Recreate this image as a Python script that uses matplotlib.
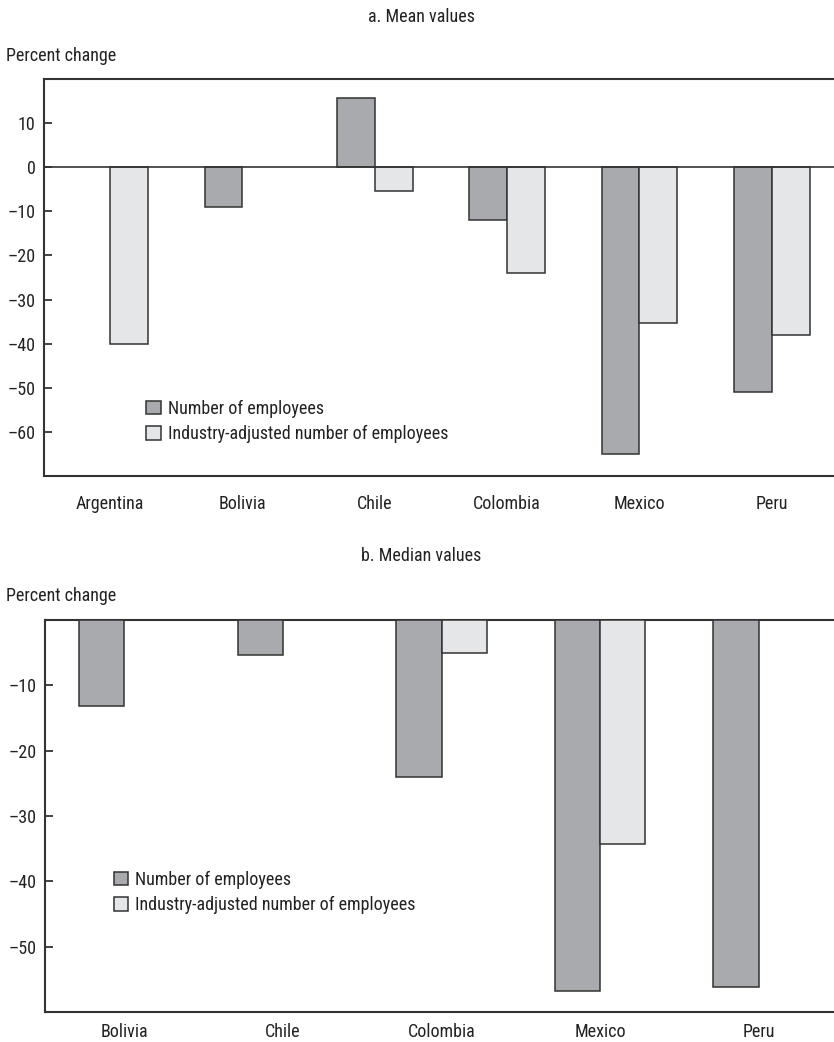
import numpy as np
import matplotlib
matplotlib.use("Agg")
import matplotlib.pyplot as plt

plt.rcParams['font.family'] = ['Roboto Condensed', 'Open Sans Condensed', 'Liberation Sans Narrow',
                               'DejaVu Sans']
plt.rcParams['font.stretch'] = 'condensed'
plt.rcParams['font.size'] = 13
plt.rcParams['text.color'] = '#222222'
plt.rcParams['xtick.color'] = '#222222'
plt.rcParams['ytick.color'] = '#222222'

# a. Mean values
mean_countries = ['Argentina', 'Bolivia', 'Chile', 'Colombia', 'Mexico', 'Peru']
mean_employees = [np.nan, -9.0, 15.8, -12.0, -65.0, -51.0]
mean_adjusted = [-40.0, np.nan, -5.3, -24.0, -35.4, -38.0]
mean_yticks = [-60, -50, -40, -30, -20, -10, 0, 10]

# b. Median values
median_countries = ['Bolivia', 'Chile', 'Colombia', 'Mexico', 'Peru']
median_employees = [-13.1, -5.3, -24.0, -56.8, -56.1]
median_adjusted = [np.nan, np.nan, -5.0, -34.3, np.nan]
median_yticks = [-50, -40, -30, -20, -10]

series_names = ['Number of employees', 'Industry-adjusted number of employees']

DARK = '#a9aaad'
LIGHT = '#e5e6e8'
EDGE = '#333333'
W, H = 834, 1042

fig = plt.figure(figsize=(W / 100, H / 100), dpi=100)


def px_axes(left, top, right, bottom):
    return fig.add_axes([left / W, 1 - bottom / H, (right - left) / W, (bottom - top) / H])


def draw_panel(ax, countries, dark, light, ylim, yticks, legend_anchor, xpad):
    x = np.arange(len(countries))
    bw = 0.286
    ax.bar(x - bw / 2, dark, bw, color=DARK, edgecolor=EDGE, linewidth=1.1,
           label=series_names[0], zorder=3)
    ax.bar(x + bw / 2, light, bw, color=LIGHT, edgecolor=EDGE, linewidth=1.1,
           label=series_names[1], zorder=3)
    ax.set_xlim(-0.5, len(countries) - 0.5)
    ax.set_ylim(*ylim)
    ax.set_yticks(yticks)
    # en dash for the minus sign
    ax.set_yticklabels([str(t).replace('-', '\u2013') for t in yticks])
    ax.set_xticks(x)
    ax.set_xticklabels(countries)
    ax.tick_params(axis='x', length=0, pad=xpad)
    ax.tick_params(axis='y', direction='in', length=6, width=1.2, pad=6)
    ax.spines['right'].set_visible(False)
    for s in ['left', 'top', 'bottom']:
        ax.spines[s].set_linewidth(1.5)
        ax.spines[s].set_color(EDGE)
    leg = ax.legend(loc='upper left', bbox_to_anchor=legend_anchor, frameon=False,
                    handlelength=0.78, handleheight=0.78, handletextpad=0.4,
                    labelspacing=0.4, borderpad=0, borderaxespad=0, fontsize=13)
    return leg


ax1 = px_axes(44, 79, 838, 476)
draw_panel(ax1, mean_countries, mean_employees, mean_adjusted,
           (-70, 20), mean_yticks, (0.129, 0.192), 13.5)
ax1.axhline(0, color=EDGE, linewidth=1.2, zorder=4)

ax2 = px_axes(45, 620, 838, 1012)
draw_panel(ax2, median_countries, median_employees, median_adjusted,
           (-60, 0), median_yticks, (0.087, 0.36), 8)

fig.text(421 / W, 1 - 17 / H, 'a. Mean values', ha='center', va='center')
fig.text(421 / W, 1 - 556 / H, 'b. Median values', ha='center', va='center')
fig.text(6 / W, 1 - 56 / H, 'Percent change', ha='left', va='center')
fig.text(6 / W, 1 - 596 / H, 'Percent change', ha='left', va='center')

fig.savefig('out.png', dpi=100)
